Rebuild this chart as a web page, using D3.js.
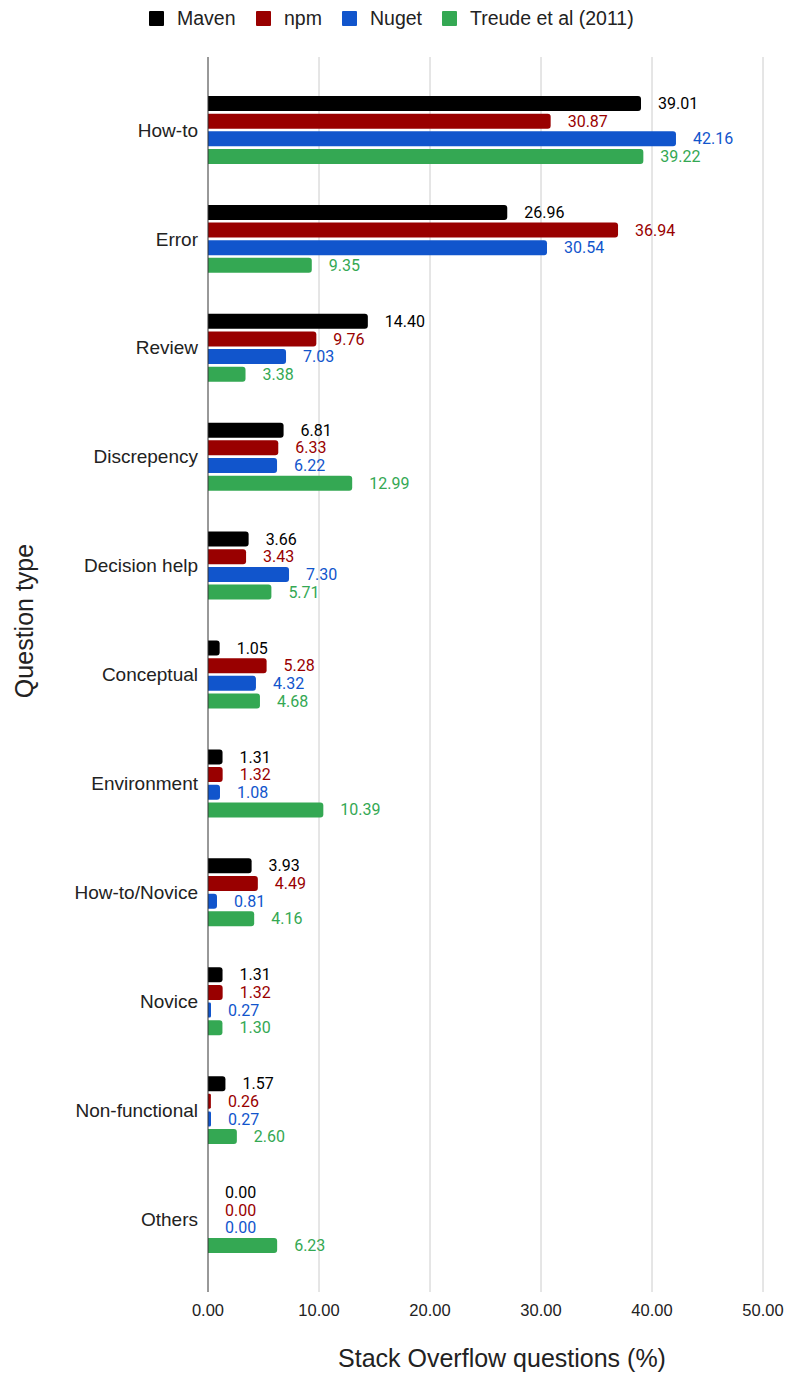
<!DOCTYPE html>
<html><head><meta charset="utf-8">
<script src="https://cdn.jsdelivr.net/npm/d3@7"></script>
<style>body{margin:0;background:#fff;} svg{display:block;}</style>
</head><body>
<svg id="c" width="785" height="1374"></svg>
<script>
const categories = ["How-to","Error","Review","Discrepency","Decision help","Conceptual","Environment","How-to/Novice","Novice","Non-functional","Others"];
const seriesNames = ["Maven","npm","Nuget","Treude et al (2011)"];
const maven  = [39.01,26.96,14.40,6.81,3.66,1.05,1.31,3.93,1.31,1.57,0.00];
const npm    = [30.87,36.94,9.76,6.33,3.43,5.28,1.32,4.49,1.32,0.26,0.00];
const nuget  = [42.16,30.54,7.03,6.22,7.30,4.32,1.08,0.81,0.27,0.27,0.00];
const treude = [39.22,9.35,3.38,12.99,5.71,4.68,10.39,4.16,1.30,2.60,6.23];
const colors = ["#000000","#990000","#1155cc","#34a853"];
const xTicks = [0,10,20,30,40,50];

const series = [maven,npm,nuget,treude];
const svg = d3.select("#c");
const L = 208, R = 763, T = 57, B = 1292;
const x = d3.scaleLinear().domain([0,50]).range([L,R]);
const y = d3.scaleBand().domain(categories).range([T,B]).paddingInner(0.376).paddingOuter(0.358);
const yi = d3.scaleBand().domain(seriesNames).range([0,y.bandwidth()]).paddingInner(0.15);

const SANS = "'Liberation Sans', Arial, sans-serif";
const ROBO = "Roboto, 'Liberation Sans', sans-serif";

// grid
svg.append("g").selectAll("line").data(xTicks.slice(1)).join("line")
  .attr("x1",d=>x(d)).attr("x2",d=>x(d)).attr("y1",T).attr("y2",B)
  .attr("stroke","#cccccc").attr("stroke-width",1);

// tick labels
svg.append("g").selectAll("text").data(xTicks).join("text")
  .attr("x",d=>x(d)).attr("y",1316).attr("text-anchor","middle")
  .attr("font-family",SANS).attr("font-size",16.5).attr("fill","#222")
  .text(d=>d.toFixed(2));

function barPath(x0,x1,yy,h){
  const w = x1-x0; const r = Math.min(3,w/2,h/2);
  return `M${x0},${yy}H${x1-r}Q${x1},${yy} ${x1},${yy+r}V${yy+h-r}Q${x1},${yy+h} ${x1-r},${yy+h}H${x0}Z`;
}

const rows = [];
categories.forEach((c,i)=>{
  seriesNames.forEach((s,j)=>{
    rows.push({c, s, j, v: series[j][i]});
  });
});

const gb = svg.append("g");
gb.selectAll("path").data(rows.filter(d=>d.v>0)).join("path")
  .attr("d",d=>barPath(x(0), x(d.v), y(d.c)+yi(d.s), yi.bandwidth()))
  .attr("fill",d=>colors[d.j]);

gb.selectAll("text").data(rows).join("text")
  .attr("x",d=>x(d.v)+17).attr("y",d=>y(d.c)+yi(d.s)+yi.bandwidth()/2)
  .attr("dy","0.35em").attr("font-family",ROBO).attr("font-size",16).attr("font-weight",400)
  .attr("fill",d=>colors[d.j]).text(d=>d.v.toFixed(2));

// axis line
svg.append("line").attr("x1",x(0)).attr("x2",x(0)).attr("y1",T).attr("y2",B)
  .attr("stroke","#333").attr("stroke-width",1);

// category labels
svg.append("g").selectAll("text").data(categories).join("text")
  .attr("x",198).attr("y",d=>y(d)+y.bandwidth()/2).attr("dy","0.35em")
  .attr("text-anchor","end").attr("font-family",SANS).attr("font-size",19).attr("fill","#222")
  .text(d=>d);

// axis titles
svg.append("text").attr("x",502).attr("y",1367).attr("text-anchor","middle")
  .attr("font-family",SANS).attr("font-size",25).attr("fill","#222").text("Stack Overflow questions (%)");
svg.append("text").attr("transform","translate(33,621) rotate(-90)").attr("text-anchor","middle")
  .attr("font-family",SANS).attr("font-size",25).attr("fill","#222").text("Question type");

// legend
const legX = [149,256,342,442];
const lg = svg.append("g").selectAll("g").data(seriesNames).join("g")
  .attr("transform",(d,i)=>`translate(${legX[i]},11)`);
lg.append("rect").attr("width",15).attr("height",15).attr("rx",1).attr("fill",(d,i)=>colors[i]);
lg.append("text").attr("x",28).attr("y",7.5).attr("dy","0.35em")
  .attr("font-family",SANS).attr("font-size",19.5).attr("fill","#222").text(d=>d);
</script>
</body></html>
